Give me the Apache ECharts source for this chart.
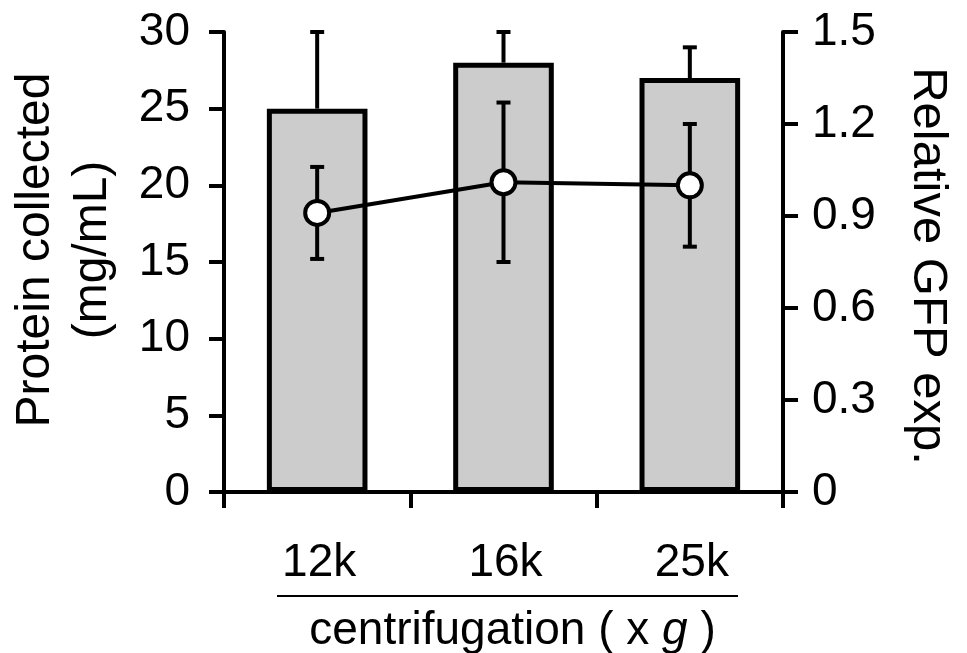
<!DOCTYPE html>
<html>
<head>
<meta charset="utf-8">
<script src="https://cdn.jsdelivr.net/npm/echarts@6/dist/echarts.min.js"></script>
<style>
  html, body { margin: 0; padding: 0; background: #fff; }
  #main { width: 967px; height: 653px; }
</style>
</head>
<body>
<div id="main"></div>
<script>
// data
var categories = ["12k", "16k", "25k"];
var protein = [25, 28, 27];          // mg/mL, bars
var proteinErr = [5, 2, 2];
var gfp = [0.91, 1.01, 1.0];         // relative GFP, line
var gfpErr = [0.15, 0.26, 0.2];

var FONT = "'Liberation Sans', Arial, sans-serif";

var chart = echarts.init(document.getElementById("main"));

// error bar drawer, cap width in px
function errRender(capW, lowCap) {
  return function (params, api) {
    var x = api.value(0);
    var lo = api.coord([x, api.value(1)]);
    var hi = api.coord([x, api.value(2)]);
    var st = { stroke: "#000", lineWidth: 4 };
    var kids = [
      { type: "line", shape: { x1: lo[0], y1: lo[1], x2: hi[0], y2: hi[1] }, style: st },
      { type: "line", shape: { x1: hi[0] - capW / 2, y1: hi[1], x2: hi[0] + capW / 2, y2: hi[1] }, style: st }
    ];
    if (lowCap) {
      kids.push({ type: "line", shape: { x1: lo[0] - capW / 2, y1: lo[1], x2: lo[0] + capW / 2, y2: lo[1] }, style: st });
    }
    return { type: "group", children: kids };
  };
}

var barErrData = protein.map(function (v, i) { return [i, v, v + proteinErr[i]]; });
var gfpErrData = gfp.map(function (v, i) { return [i, v - gfpErr[i], v + gfpErr[i]]; });

var option = {
  animation: false,
  grid: { left: 224, right: 184, top: 32, bottom: 161, containLabel: false, outerBoundsMode: "none" },
  xAxis: {
    type: "category",
    data: categories,
    boundaryGap: true,
    axisLine: { lineStyle: { color: "#000", width: 4 } },
    axisTick: { show: true, length: 16, lineStyle: { color: "#000", width: 4 } },
    axisLabel: { color: "#000", fontSize: 46, fontFamily: FONT, margin: 48, padding: [0, 0, 0, 4] },
    name: "{n|centrifugation ( x }{i|g}{n| )}",
    nameLocation: "middle",
    nameGap: 116,
    nameTextStyle: {
      padding: [0, 0, 0, 18],
      rich: {
        n: { fontSize: 46, fontFamily: FONT, color: "#000" },
        i: { fontSize: 46, fontFamily: FONT, color: "#000", fontStyle: "italic" }
      }
    }
  },
  yAxis: [
    {
      type: "value",
      min: 0, max: 30, interval: 5,
      splitLine: { show: false },
      axisLine: { show: true, lineStyle: { color: "#000", width: 4 } },
      axisTick: { show: true, length: 15, lineStyle: { color: "#000", width: 4 } },
      axisLabel: { color: "#000", fontSize: 46, fontFamily: FONT, margin: 34 }
    },
    {
      type: "value",
      position: "right",
      min: 0, max: 1.5, interval: 0.3,
      splitLine: { show: false },
      axisLine: { show: true, lineStyle: { color: "#000", width: 4 } },
      axisTick: { show: true, length: 15, lineStyle: { color: "#000", width: 4 } },
      axisLabel: { color: "#000", fontSize: 46, fontFamily: FONT, margin: 29 }
    }
  ],
  graphic: [
    {
      type: "line",
      shape: { x1: 277, y1: 596, x2: 738, y2: 596 },
      style: { stroke: "#000", lineWidth: 2 }
    },
    {
      type: "text",
      x: 64, y: 250,
      rotation: Math.PI / 2,
      style: {
        text: "Protein collected\n(mg/mL)",
        font: "48px " + FONT,
        fill: "#000",
        lineHeight: 57,
        textAlign: "center",
        textVerticalAlign: "middle"
      }
    },
    {
      type: "text",
      x: 928, y: 266,
      rotation: -Math.PI / 2,
      style: {
        text: "Relative GFP exp.",
        font: "49px " + FONT,
        fill: "#000",
        textAlign: "center",
        textVerticalAlign: "middle"
      }
    }
  ],
  series: [
    {
      name: "Protein",
      type: "bar",
      data: protein,
      barWidth: "54%",
      itemStyle: { color: "#cccccc", borderColor: "#000", borderWidth: 5 },
      z: 2
    },
    {
      type: "custom",
      renderItem: errRender(14, false),
      data: barErrData,
      z: 1,
      silent: true
    },
    {
      type: "custom",
      yAxisIndex: 1,
      renderItem: errRender(14, true),
      data: gfpErrData,
      z: 4,
      silent: true
    },
    {
      name: "GFP",
      type: "line",
      yAxisIndex: 1,
      data: gfp,
      symbol: "circle",
      symbolSize: 24,
      showAllSymbol: true,
      lineStyle: { color: "#000", width: 4 },
      itemStyle: { color: "#fff", borderColor: "#000", borderWidth: 4 },
      z: 5
    }
  ]
};

chart.setOption(option);
</script>
</body>
</html>
